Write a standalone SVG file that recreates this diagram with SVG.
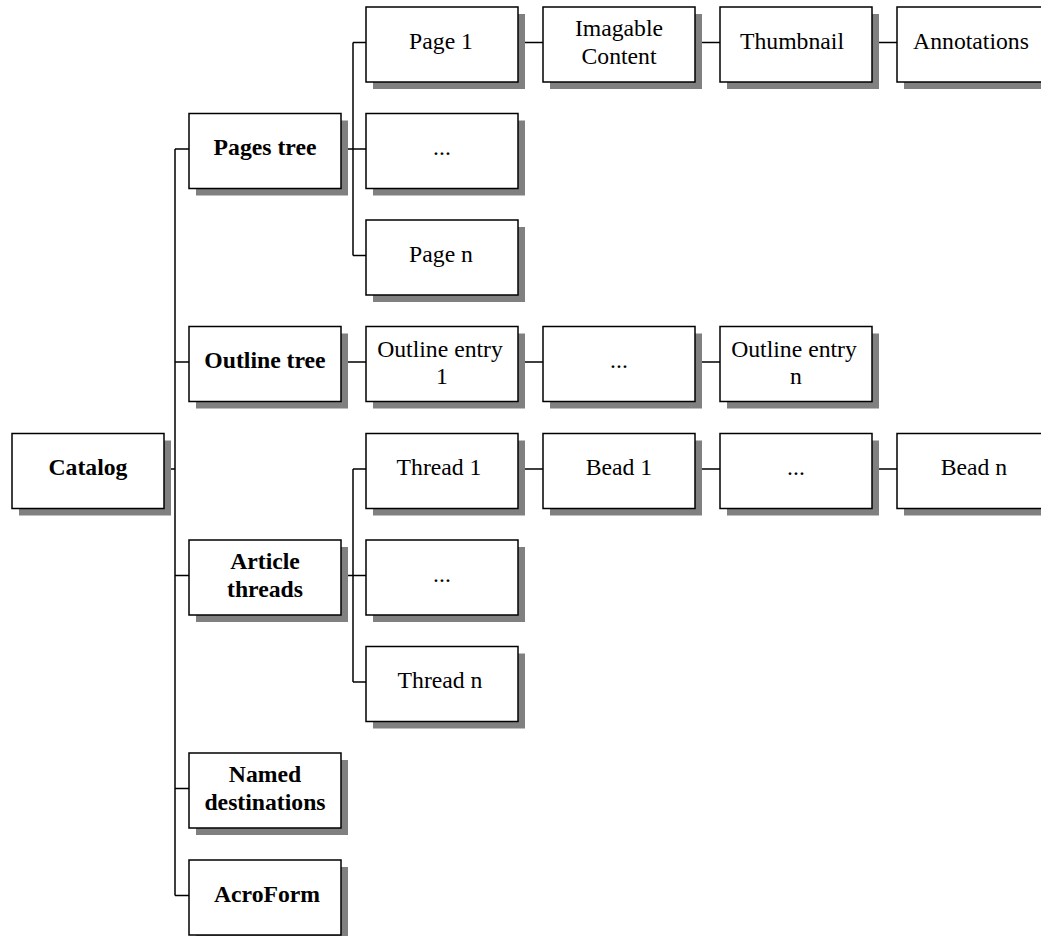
<svg xmlns="http://www.w3.org/2000/svg" width="1041" height="936" viewBox="0 0 1041 936">
<style>
.sh{fill:#808080;stroke:none}
.bx{fill:#ffffff;stroke:#000000;stroke-width:1.5}
.t{font-family:"Liberation Serif","Times New Roman",serif;font-size:23.7px;fill:#000000;text-anchor:middle}
.b{font-weight:bold}
.c{fill:none;stroke:#000000;stroke-width:1.5}
</style>
<rect x="0" y="0" width="1041" height="936" fill="#ffffff"/>
<g id="connectors">
<path class="c" d="M164 469H175M175 149V895.5M175 149H189M175 362H189M175 575.5H189M175 788.5H189M175 895.5H189"/>
<path class="c" d="M341 149H366M353 42.5V255.5M353 42.5H366M353 255.5H366"/>
<path class="c" d="M518 42.5H543M695 42.5H720M872 42.5H897"/>
<path class="c" d="M341 362H366M518 362H543M695 362H720"/>
<path class="c" d="M341 575.5H366M353 469V682M353 469H366M353 682H366"/>
<path class="c" d="M518 469H543M695 469H720M872 469H897"/>
</g>
<g id="catalog"><rect class="sh" x="19" y="440.5" width="152" height="75"/><rect class="bx" x="12" y="433.5" width="152" height="75"/><text class="t b" x="88" y="475">Catalog</text></g>
<g id="pages-tree"><rect class="sh" x="196" y="120.5" width="152" height="75"/><rect class="bx" x="189" y="113.5" width="152" height="75"/><text class="t b" x="265" y="155">Pages tree</text></g>
<g id="outline-tree"><rect class="sh" x="196" y="333.5" width="152" height="75"/><rect class="bx" x="189" y="326.5" width="152" height="75"/><text class="t b" x="265" y="368">Outline tree</text></g>
<g id="article-threads"><rect class="sh" x="196" y="547" width="152" height="75"/><rect class="bx" x="189" y="540" width="152" height="75"/><text class="t b" x="265" y="569">Article</text><text class="t b" x="265" y="596.5">threads</text></g>
<g id="named-destinations"><rect class="sh" x="196" y="760" width="152" height="75"/><rect class="bx" x="189" y="753" width="152" height="75"/><text class="t b" x="265" y="782">Named</text><text class="t b" x="265" y="809.5">destinations</text></g>
<g id="acroform"><rect class="sh" x="196" y="867" width="152" height="75"/><rect class="bx" x="189" y="860" width="152" height="75"/><text class="t b" x="267" y="901.5">AcroForm</text></g>
<g id="page-1"><rect class="sh" x="373" y="14" width="152" height="75"/><rect class="bx" x="366" y="7" width="152" height="75"/><text class="t" x="441" y="48.5">Page 1</text></g>
<g id="pages-more"><rect class="sh" x="373" y="120.5" width="152" height="75"/><rect class="bx" x="366" y="113.5" width="152" height="75"/><text class="t" x="442" y="155">...</text></g>
<g id="page-n"><rect class="sh" x="373" y="227" width="152" height="75"/><rect class="bx" x="366" y="220" width="152" height="75"/><text class="t" x="441" y="261.5">Page n</text></g>
<g id="imagable-content"><rect class="sh" x="550" y="14" width="152" height="75"/><rect class="bx" x="543" y="7" width="152" height="75"/><text class="t" x="619" y="36">Imagable</text><text class="t" x="619" y="63.5">Content</text></g>
<g id="thumbnail"><rect class="sh" x="727" y="14" width="152" height="75"/><rect class="bx" x="720" y="7" width="152" height="75"/><text class="t" x="792" y="48.5">Thumbnail</text></g>
<g id="annotations"><rect class="sh" x="904" y="14" width="152" height="75"/><rect class="bx" x="897" y="7" width="152" height="75"/><text class="t" x="971" y="48.5">Annotations</text></g>
<g id="outline-entry-1"><rect class="sh" x="373" y="333.5" width="152" height="75"/><rect class="bx" x="366" y="326.5" width="152" height="75"/><text class="t" x="440" y="356.5">Outline entry</text><text class="t" x="442" y="383.5">1</text></g>
<g id="outline-more"><rect class="sh" x="550" y="333.5" width="152" height="75"/><rect class="bx" x="543" y="326.5" width="152" height="75"/><text class="t" x="619" y="368">...</text></g>
<g id="outline-entry-n"><rect class="sh" x="727" y="333.5" width="152" height="75"/><rect class="bx" x="720" y="326.5" width="152" height="75"/><text class="t" x="794" y="356.5">Outline entry</text><text class="t" x="796" y="383.5">n</text></g>
<g id="thread-1"><rect class="sh" x="373" y="440.5" width="152" height="75"/><rect class="bx" x="366" y="433.5" width="152" height="75"/><text class="t" x="439" y="475">Thread 1</text></g>
<g id="bead-1"><rect class="sh" x="550" y="440.5" width="152" height="75"/><rect class="bx" x="543" y="433.5" width="152" height="75"/><text class="t" x="619" y="475">Bead 1</text></g>
<g id="beads-more"><rect class="sh" x="727" y="440.5" width="152" height="75"/><rect class="bx" x="720" y="433.5" width="152" height="75"/><text class="t" x="796" y="475">...</text></g>
<g id="bead-n"><rect class="sh" x="904" y="440.5" width="152" height="75"/><rect class="bx" x="897" y="433.5" width="152" height="75"/><text class="t" x="974" y="475">Bead n</text></g>
<g id="threads-more"><rect class="sh" x="373" y="547" width="152" height="75"/><rect class="bx" x="366" y="540" width="152" height="75"/><text class="t" x="442" y="581.5">...</text></g>
<g id="thread-n"><rect class="sh" x="373" y="653.5" width="152" height="75"/><rect class="bx" x="366" y="646.5" width="152" height="75"/><text class="t" x="440" y="688">Thread n</text></g>
</svg>
